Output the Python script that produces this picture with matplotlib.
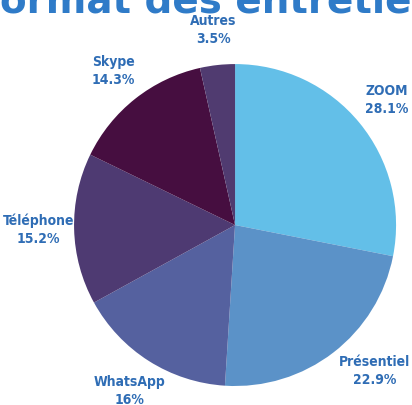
import matplotlib
matplotlib.use("Agg")
import matplotlib.pyplot as plt

# data
labels = ["ZOOM", "Présentiel", "WhatsApp", "Téléphone", "Skype", "Autres"]
shares = [28.1, 22.9, 16, 15.2, 14.3, 3.5]
pct_text = ["28.1%", "22.9%", "16%", "15.2%", "14.3%", "3.5%"]
colors = ["#63BFE8", "#5B92C8", "#55619F", "#4E3A72", "#460E40", "#503B70"]

TITLE = "Format des entretiens"
BLUE = "#2F6DB5"

fig = plt.figure(figsize=(4.12, 4.05), dpi=100)
ax = fig.add_axes([0, 0, 1, 1])
ax.axis("off")

texts = [f"{n}\n{p}" for n, p in zip(labels, pct_text)]
wedges, lbls = ax.pie(shares, labels=texts, colors=colors, startangle=90,
                      counterclock=False, radius=1.0, labeldistance=1.22,
                      wedgeprops=dict(linewidth=0))
for t in lbls:
    t.set_ha("center")
    t.set_va("center")
    t.set_color(BLUE)
    t.set_fontsize(10)
    t.set_fontstretch("condensed")
    t.set_fontweight("bold")
    t.set_linespacing(1.35)

# the reference pushes the Présentiel label a little outwards/right
x, y = lbls[1].get_position()
lbls[1].set_position((x + 0.12, y + 0.06))

ax.set_aspect("auto")
ax.set_xlim(-1.46, 1.099)
ax.set_ylim(-1.118, 1.398)

# title, cropped by the top edge as in the reference
fig.text(0.53, 0.968, TITLE, ha="center", va="baseline", fontsize=28,
         fontweight="bold", color="#2F7BC8")

fig.savefig("out.png", dpi=100)
